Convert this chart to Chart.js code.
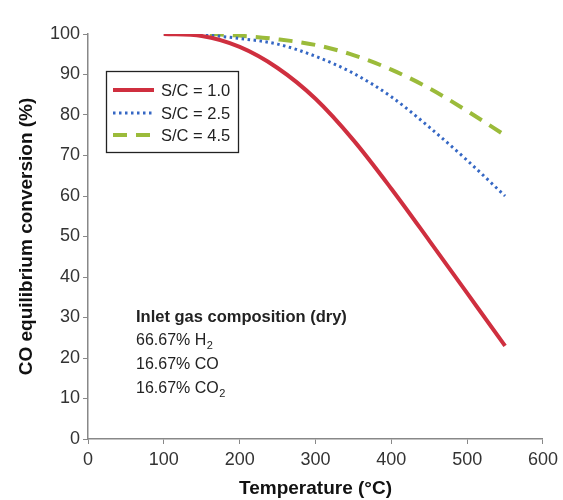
<!DOCTYPE html>
<html>
<head>
<meta charset="utf-8">
<script src="https://cdn.jsdelivr.net/npm/chart.js@4.4.1/dist/chart.umd.min.js"></script>
<style>
  html, body { margin: 0; padding: 0; background: #fff; }
  #wgs { display: block; }
</style>
</head>
<body>
<canvas id="wgs" width="563" height="500"></canvas>
<script>
// temperature (C) and CO equilibrium conversion (%) for each steam/carbon ratio
var temps = [100, 150, 200, 250, 300, 350, 400, 450, 500, 550];
var sc10 = [100, 99.5, 96.8, 91.6, 84, 73.8, 61.8, 49, 36, 23];
var sc25 = [100, 99.8, 98.9, 97.5, 94.5, 90.3, 84.5, 77, 68.8, 60];
var sc45 = [100, 100, 99.6, 98.7, 97.3, 94.8, 91.2, 86.6, 81, 75];
var seriesNames = ['S/C = 1.0', 'S/C = 2.5', 'S/C = 4.5'];
var xTicks = [0, 100, 200, 300, 400, 500, 600];
var yTicks = [0, 10, 20, 30, 40, 50, 60, 70, 80, 90, 100];

function pts(vals) {
  return temps.map(function(t, i){ return {x: t, y: vals[i]}; });
}

var FONT = '"Liberation Sans", Arial, sans-serif';

// legend box + inlet composition note
var notes = {
  id: 'notes',
  afterDraw: function(chart) {
    var ctx = chart.ctx;
    var ds = chart.data.datasets;
    ctx.save();
    // legend frame
    ctx.strokeStyle = '#222';
    ctx.lineWidth = 1.3;
    ctx.strokeRect(106.5, 71.5, 132, 81);
    var rows = [90, 113, 135];
    for (var i = 0; i < ds.length; i++) {
      ctx.beginPath();
      ctx.strokeStyle = ds[i].borderColor;
      ctx.lineWidth = ds[i].borderWidth;
      ctx.setLineDash(ds[i].borderDash || []);
      ctx.moveTo(113, rows[i]);
      ctx.lineTo(154, rows[i]);
      ctx.stroke();
      ctx.setLineDash([]);
      ctx.fillStyle = '#222';
      ctx.font = '16.5px ' + FONT;
      ctx.textBaseline = 'middle';
      ctx.fillText(ds[i].label, 161, rows[i] + 1);
    }
    // inlet gas composition
    ctx.textBaseline = 'alphabetic';
    ctx.fillStyle = '#222';
    ctx.font = 'bold 16.5px ' + FONT;
    ctx.fillText('Inlet gas composition (dry)', 136, 322);
    var lines = [['66.67% H', '2', 345], ['16.67% CO', '', 369], ['16.67% CO', '2', 393]];
    lines.forEach(function(l){
      ctx.font = '16px ' + FONT;
      ctx.fillText(l[0], 136, l[2]);
      if (l[1]) {
        var w = ctx.measureText(l[0]).width;
        ctx.font = '11px ' + FONT;
        ctx.fillText(l[1], 136 + w + 0.5, l[2] + 4);
      }
    });
    ctx.restore();
  }
};

new Chart(document.getElementById('wgs'), {
  type: 'line',
  data: {
    datasets: [
      { label: seriesNames[0], data: pts(sc10), borderColor: '#cf2f3f', borderWidth: 4, pointRadius: 0, cubicInterpolationMode: 'monotone' },
      { label: seriesNames[1], data: pts(sc25), borderColor: '#3567c4', borderWidth: 3, borderDash: [2.5, 3.5], pointRadius: 0, cubicInterpolationMode: 'monotone' },
      { label: seriesNames[2], data: pts(sc45), borderColor: '#9bbb3a', borderWidth: 4, borderDash: [14, 9], pointRadius: 0, cubicInterpolationMode: 'monotone' }
    ]
  },
  options: {
    responsive: false,
    animation: false,
    layout: { padding: { top: 34, right: 16, left: 0, bottom: 0 } },
    plugins: { legend: { display: false }, tooltip: { enabled: false } },
    scales: {
      x: {
        type: 'linear', min: 0, max: 600,
        afterBuildTicks: function(s){ s.ticks = xTicks.map(function(v){ return {value: v}; }); },
        afterFit: function(s){ s.height = 61; },
        grid: { drawOnChartArea: false, tickLength: 5, color: '#888' },
        border: { color: '#888', width: 1.5 },
        ticks: { color: '#333', font: { family: FONT, size: 18 }, padding: 5, maxRotation: 0 },
        title: { display: true, text: 'Temperature (°C)', color: '#111', font: { family: FONT, size: 19, weight: 'bold' }, padding: { top: 0, bottom: 0 } }
      },
      y: {
        min: 0, max: 100,
        afterBuildTicks: function(s){ s.ticks = yTicks.map(function(v){ return {value: v}; }); },
        afterFit: function(s){ s.width = 88; },
        grid: { drawOnChartArea: false, tickLength: 5, color: '#888' },
        border: { color: '#888', width: 1.5 },
        ticks: { color: '#333', font: { family: FONT, size: 18 }, padding: 3 },
        title: { display: true, text: 'CO equilibrium conversion (%)', color: '#111', font: { family: FONT, size: 19, weight: 'bold' }, padding: { top: 15, bottom: 0 } }
      }
    }
  },
  plugins: [notes]
});
</script>
</body>
</html>
